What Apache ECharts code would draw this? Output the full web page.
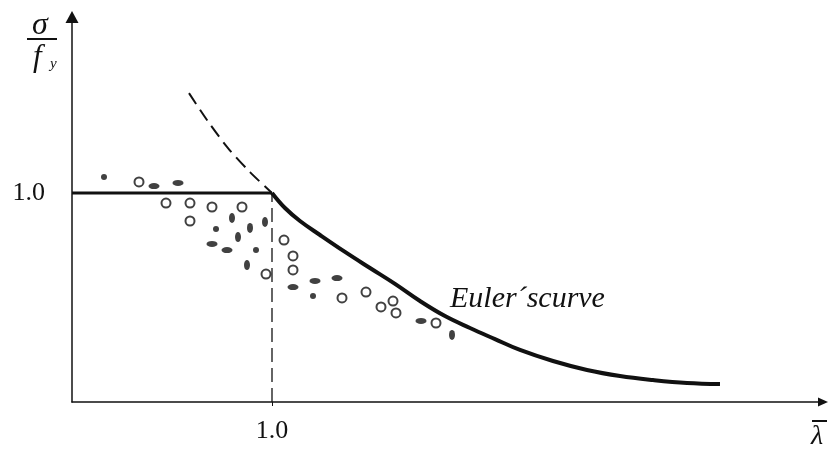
<!DOCTYPE html>
<html><head><meta charset="utf-8">
<script src="https://cdn.jsdelivr.net/npm/echarts@6/dist/echarts.min.js"></script>
<style>html,body{margin:0;padding:0;background:#fff}#c{width:829px;height:451px}</style>
</head><body><div id="c"></div>
<script>
// tick labels
const xTickValues = [1.0];
const xTickLabels = ['1.0'];
const yTickValues = [1.0];
const yTickLabels = ['1.0'];

// plateau sigma/fy = 1 up to lambda = 1
const plateau = [[0, 1.0], [1.0, 1.0]];
// Euler's curve (solid part)
const eulerCurve = [
  [1.0, 1.0], [1.065, 0.928], [1.14, 0.866], [1.24, 0.799], [1.365, 0.718],
  [1.49, 0.641], [1.615, 0.565], [1.74, 0.483], [1.865, 0.411], [1.99, 0.354],
  [2.115, 0.301], [2.24, 0.249], [2.405, 0.196], [2.575, 0.153], [2.74, 0.124],
  [2.905, 0.105], [3.075, 0.091], [3.24, 0.086]
];
// Euler's curve continuation (dashed)
const eulerDashed = [[0.585, 1.478], [0.675, 1.349], [0.78, 1.215], [0.89, 1.100], [1.0, 1.0]];
// vertical dashed line at lambda = 1
const cutoffLine = [[1.0, 0], [1.0, 1.0]];

// test results
const openCircles = [
  [0.335, 1.053], [0.47, 0.952], [0.59, 0.952], [0.70, 0.933], [0.85, 0.933],
  [0.59, 0.866], [0.97, 0.612], [1.06, 0.775], [1.105, 0.699], [1.105, 0.632],
  [1.35, 0.498], [1.47, 0.526], [1.605, 0.483], [1.545, 0.455], [1.62, 0.426],
  [1.82, 0.378]
];
const filledWide = [
  [0.41, 1.033], [0.53, 1.048], [0.70, 0.756], [0.775, 0.727], [1.105, 0.550],
  [1.215, 0.579], [1.325, 0.593], [1.745, 0.388]
];
const filledTall = [
  [0.80, 0.880], [0.89, 0.833], [0.965, 0.861], [0.83, 0.789], [0.875, 0.655],
  [1.90, 0.321]
];
const filledDots = [[0.16, 1.077], [0.72, 0.828], [0.92, 0.727], [1.205, 0.507]];

const ink = '#111';
const ellipse = 'path://M0,5a5,5 0 1,0 10,0a5,5 0 1,0 -10,0z';
const serif = '"Liberation Serif", "DejaVu Serif", serif';

const chart = echarts.init(document.getElementById('c'), null, {renderer: 'canvas'});
chart.setOption({
  animation: false,
  backgroundColor: '#fff',
  grid: {left: 72, right: 6, top: 17, bottom: 49},
  xAxis: {
    type: 'value', min: 0, max: 3.755,
    splitLine: {show: false},
    axisLine: {lineStyle: {color: ink, width: 1.5}, symbol: ['none', 'triangle'], symbolSize: [9, 10]},
    axisTick: {show: true, customValues: xTickValues, length: 4, lineStyle: {color: ink}},
    axisLabel: {customValues: xTickValues, formatter: v => xTickLabels[xTickValues.indexOf(v)] || '',
      color: ink, fontFamily: serif, fontSize: 26, margin: 16}
  },
  yAxis: {
    type: 'value', min: 0, max: 1.842,
    splitLine: {show: false},
    axisLine: {lineStyle: {color: ink, width: 1.5}, symbol: ['none', 'triangle'], symbolSize: [13, 12]},
    axisTick: {show: false},
    axisLabel: {customValues: yTickValues, formatter: v => yTickLabels[yTickValues.indexOf(v)] || '',
      color: ink, fontFamily: serif, fontSize: 26, margin: 27}
  },
  series: [
    {type: 'line', data: plateau, symbol: 'none', lineStyle: {color: ink, width: 3}},
    {type: 'line', data: cutoffLine, symbol: 'none', lineStyle: {color: ink, width: 1.3, type: [14, 6]}},
    {type: 'line', data: eulerDashed, symbol: 'none', smooth: 0.3, lineStyle: {color: ink, width: 2, type: [13, 7]}},
    {type: 'line', data: eulerCurve, symbol: 'none', smooth: 0.4, lineStyle: {color: ink, width: 4}},
    {type: 'scatter', data: openCircles, symbol: 'emptyCircle', symbolSize: 9,
      itemStyle: {color: ink, borderColor: ink, borderWidth: 2.2}},
    {type: 'scatter', data: filledWide, symbol: ellipse, symbolSize: [11, 6], itemStyle: {color: ink}},
    {type: 'scatter', data: filledTall, symbol: ellipse, symbolSize: [6, 10], itemStyle: {color: ink}},
    {type: 'scatter', data: filledDots, symbol: 'circle', symbolSize: 6, itemStyle: {color: ink}}
  ],
  graphic: [
    {type: 'text', left: 32, top: 10, style: {text: 'σ', font: 'italic 32px ' + serif, fill: ink}},
    {type: 'line', shape: {x1: 27, y1: 39, x2: 57, y2: 39}, style: {stroke: ink, lineWidth: 2}},
    {type: 'text', left: 33, top: 42, style: {text: 'f', font: 'italic 31px ' + serif, fill: ink}},
    {type: 'text', left: 50, top: 57, style: {text: 'y', font: 'italic 15px ' + serif, fill: ink}},
    {type: 'line', shape: {x1: 812, y1: 421, x2: 827, y2: 421}, style: {stroke: ink, lineWidth: 2}},
    {type: 'text', left: 811, top: 423, style: {text: 'λ', font: 'italic 28px ' + serif, fill: ink}},
    {type: 'text', left: 450, top: 284, style: {text: 'Euler´scurve', font: 'italic 30px ' + serif, fill: ink}}
  ]
});
</script></body></html>
